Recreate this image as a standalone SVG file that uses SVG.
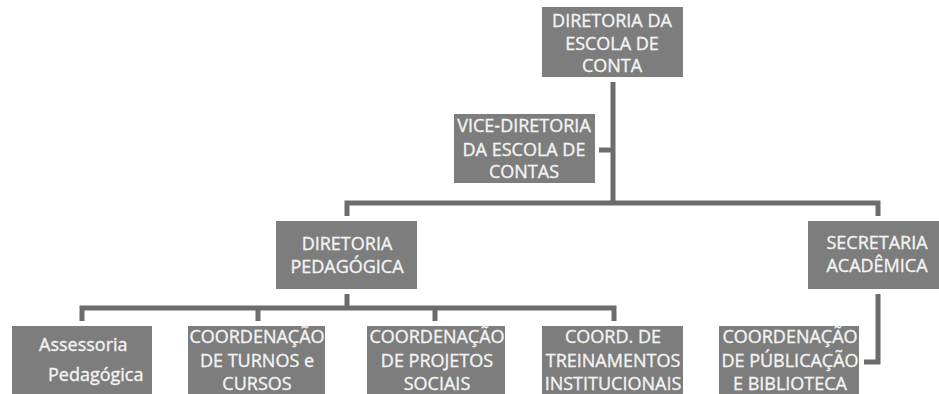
<svg xmlns="http://www.w3.org/2000/svg" width="939" height="394" viewBox="0 0 939 394">
<style>
.box{fill:#7d7d7d}
.t{font-family:"Open Sans","Noto Sans",sans-serif;font-size:18px;fill:#f4f4f4;stroke:#f4f4f4;stroke-width:0.35;text-anchor:middle}
.c{fill:none;stroke:#6c6c6c;stroke-width:5;stroke-linejoin:miter;stroke-linecap:butt}
</style>
<rect width="939" height="394" fill="#ffffff"/>
<g id="connectors">
<path class="c" d="M613 82 V203"/>
<path class="c" d="M599 150 H613"/>
<path class="c" d="M347 216 V203 H878 V216"/>
<path class="c" d="M347 294 V308"/>
<path class="c" d="M82 321 V308 H614 V321"/>
<path class="c" d="M258 308 V321"/>
<path class="c" d="M435 308 V321"/>
<path class="c" d="M878 294 V362 H864"/>
</g>
<g id="diretoria">
<rect class="box" x="542" y="7" width="141" height="70"/>
<text class="t" x="612" y="27">DIRETORIA DA</text>
<text class="t" x="612" y="50">ESCOLA DE</text>
<text class="t" x="612" y="72">CONTA</text>
</g>
<g id="vice">
<rect class="box" x="454" y="114" width="141" height="69"/>
<text class="t" x="524" y="132">VICE-DIRETORIA</text>
<text class="t" x="524" y="156">DA ESCOLA DE</text>
<text class="t" x="524" y="178">CONTAS</text>
</g>
<g id="pedagogica">
<rect class="box" x="276" y="221" width="141" height="68"/>
<text class="t" x="347" y="250">DIRETORIA</text>
<text class="t" x="347" y="273">PEDAGÓGICA</text>
</g>
<g id="secretaria">
<rect class="box" x="808" y="221" width="131" height="68"/>
<text class="t" x="877" y="249">SECRETARIA</text>
<text class="t" x="877" y="272">ACADÊMICA</text>
</g>
<g id="assessoria">
<rect class="box" x="12" y="326" width="140" height="68"/>
<text class="t" x="39" y="351" style="text-anchor:start">Assessoria</text>
<text class="t" x="48" y="381" style="text-anchor:start">Pedagógica</text>
</g>
<g id="turnos">
<rect class="box" x="188" y="326" width="137" height="68"/>
<text class="t" x="257" y="343">COORDENAÇÃO</text>
<text class="t" x="257" y="367">DE TURNOS e</text>
<text class="t" x="257" y="390">CURSOS</text>
</g>
<g id="projetos">
<rect class="box" x="367" y="326" width="138" height="68"/>
<text class="t" x="437" y="343">COORDENAÇÃO</text>
<text class="t" x="437" y="367">DE PROJETOS</text>
<text class="t" x="437" y="390">SOCIAIS</text>
</g>
<g id="treinamentos">
<rect class="box" x="542" y="326" width="141" height="68"/>
<text class="t" x="613" y="343">COORD. DE</text>
<text class="t" x="613" y="367">TREINAMENTOS</text>
<text class="t" x="613" y="390">INSTITUCIONAIS</text>
</g>
<g id="publicacao">
<rect class="box" x="719" y="326" width="140" height="68"/>
<text class="t" x="790" y="343">COORDENAÇÃO</text>
<text class="t" x="790" y="367">DE PÚBLICAÇÃO</text>
<text class="t" x="790" y="390">E BIBLIOTECA</text>
</g>
</svg>
